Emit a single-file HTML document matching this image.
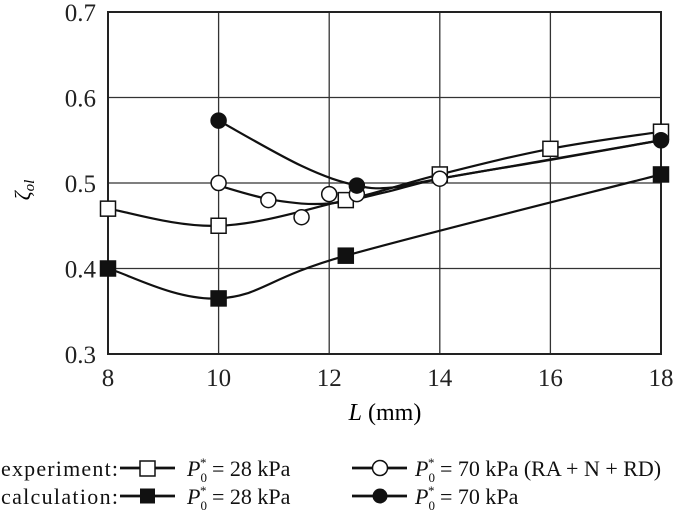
<!DOCTYPE html>
<html><head><meta charset="utf-8"><style>
body{margin:0;background:#fff;width:685px;height:518px;overflow:hidden}
svg{font-family:"Liberation Serif",serif}
</style></head><body>
<svg id="c" width="685" height="518"></svg>
<script>
const xTicks=[8,10,12,14,16,18];
const yTicks=[0.3,0.4,0.5,0.6,0.7];
const expSqX=[8,10,12.3,14,16,18];
const expSqY=[0.47,0.45,0.48,0.51,0.54,0.56];
const expCircX=[10,10.9,11.5,12,12.5,14];
const expCircY=[0.5,0.48,0.46,0.487,0.487,0.505];
const expCircFitX=[10,11,12,13,14,16,18];
const expCircFitY=[0.497,0.48,0.476,0.489,0.505,0.527,0.55];
const calcSqX=[8,10,12.3,18];
const calcSqY=[0.4,0.365,0.415,0.51];
const calcCircX=[10,12.5,18];
const calcCircY=[0.573,0.497,0.55];
const calcCircFitX=[10,11.5,12.5,13.2,14,18];
const calcCircFitY=[0.573,0.52,0.497,0.495,0.505,0.55];
const X0=108,X1=661,Y0=354,Y1=12;
const sx=v=>X0+(v-8)/(18-8)*(X1-X0);
const sy=v=>Y0-(v-0.3)/(0.7-0.3)*(Y0-Y1);
const svg=document.getElementById('c');
const NS='http://www.w3.org/2000/svg';
function mk(t,a,p){const e=document.createElementNS(NS,t);for(const k in a)e.setAttribute(k,a[k]);(p||svg).appendChild(e);return e;}
function path(xs,ys){const P=xs.map((x,i)=>[sx(x),sy(ys[i])]);let d='M'+P[0][0]+','+P[0][1];
for(let i=0;i<P.length-1;i++){const p0=P[i-1]||P[i],p1=P[i],p2=P[i+1],p3=P[i+2]||p2;const t=0.18;
d+=` C${p1[0]+(p2[0]-p0[0])*t},${p1[1]+(p2[1]-p0[1])*t} ${p2[0]-(p3[0]-p1[0])*t},${p2[1]-(p3[1]-p1[1])*t} ${p2[0]},${p2[1]}`;}return d;}
xTicks.forEach(v=>{const l=mk('line',{x1:sx(v),x2:sx(v),y1:Y1,y2:Y0,stroke:'#333','stroke-width':1.3});

const t=mk('text',{x:sx(v),y:Y0+32,'text-anchor':'middle','font-size':25,fill:'#222'});t.textContent=v;
});
yTicks.forEach(v=>{const l=mk('line',{x1:X0,x2:X1,y1:sy(v),y2:sy(v),stroke:'#333','stroke-width':1.3});

const t=mk('text',{x:X0-12,y:sy(v)+9,'text-anchor':'end','font-size':25,fill:'#222'});t.textContent=v.toFixed(1);
});
const fr=mk('rect',{x:X0,y:Y1,width:X1-X0,height:Y0-Y1,fill:'none',stroke:'#222','stroke-width':2});

function line(xs,ys,name){const p=mk('path',{d:path(xs,ys),fill:'none',stroke:'#111','stroke-width':2.2});
}
line(expSqX,expSqY,'exp-28-line');line(expCircFitX,expCircFitY,'exp-70-line');
line(calcSqX,calcSqY,'calc-28-line');line(calcCircFitX,calcCircFitY,'calc-70-line');
function sq(xs,ys,fill,name){xs.forEach((x,i)=>{const r=mk('rect',{x:sx(x)-7.5,y:sy(ys[i])-7.5,width:15,height:15,fill:fill,stroke:'#111','stroke-width':1.5});
});}
function ci(xs,ys,fill,name){xs.forEach((x,i)=>{const r=mk('circle',{cx:sx(x),cy:sy(ys[i]),r:7.5,fill:fill,stroke:'#111','stroke-width':1.5});
});}
sq(expSqX,expSqY,'#fff','exp-28-marker');ci(expCircX,expCircY,'#fff','exp-70-marker');
sq(calcSqX,calcSqY,'#111','calc-28-marker');ci(calcCircX,calcCircY,'#111','calc-70-marker');
</script>
<svg width="685" height="518" style="position:absolute;left:0;top:0" font-family="Liberation Serif, serif">
<text x="30" y="190" font-size="22" font-style="italic" transform="rotate(-90 30 190)" text-anchor="middle">ζ<tspan font-size="15" dy="4">ol</tspan></text>
<text x="385" y="420" font-size="24" text-anchor="middle"><tspan font-style="italic">L</tspan> (mm)</text>
<g font-size="22" fill="#111">
<text x="1" y="476" textLength="117">experiment:</text>
<line x1="120" y1="468" x2="175" y2="468" stroke="#111" stroke-width="2.8"/><rect x="140" y="461" width="15" height="15" fill="#fff" stroke="#111" stroke-width="1.5"/>
<text x="187" y="476"><tspan font-style="italic">P</tspan><tspan font-size="13" dy="6">0</tspan><tspan font-size="13" dx="-7" dy="-15">*</tspan><tspan dy="9"> = 28 kPa</tspan></text>
<line x1="352" y1="468" x2="407" y2="468" stroke="#111" stroke-width="2.8"/><circle cx="380" cy="468" r="7.5" fill="#fff" stroke="#111" stroke-width="1.5"/>
<text x="415" y="476"><tspan font-style="italic">P</tspan><tspan font-size="13" dy="6">0</tspan><tspan font-size="13" dx="-7" dy="-15">*</tspan><tspan dy="9"> = 70 kPa (RA + N + RD)</tspan></text>
<text x="1" y="504" textLength="117">calculation:</text>
<line x1="120" y1="496" x2="175" y2="496" stroke="#111" stroke-width="2.8"/><rect x="140" y="488.5" width="15" height="15" fill="#111"/>
<text x="187" y="504"><tspan font-style="italic">P</tspan><tspan font-size="13" dy="6">0</tspan><tspan font-size="13" dx="-7" dy="-15">*</tspan><tspan dy="9"> = 28 kPa</tspan></text>
<line x1="352" y1="496" x2="407" y2="496" stroke="#111" stroke-width="2.8"/><circle cx="380" cy="496" r="7.5" fill="#111"/>
<text x="415" y="504"><tspan font-style="italic">P</tspan><tspan font-size="13" dy="6">0</tspan><tspan font-size="13" dx="-7" dy="-15">*</tspan><tspan dy="9"> = 70 kPa</tspan></text>
</g>
</svg>
</body></html>
